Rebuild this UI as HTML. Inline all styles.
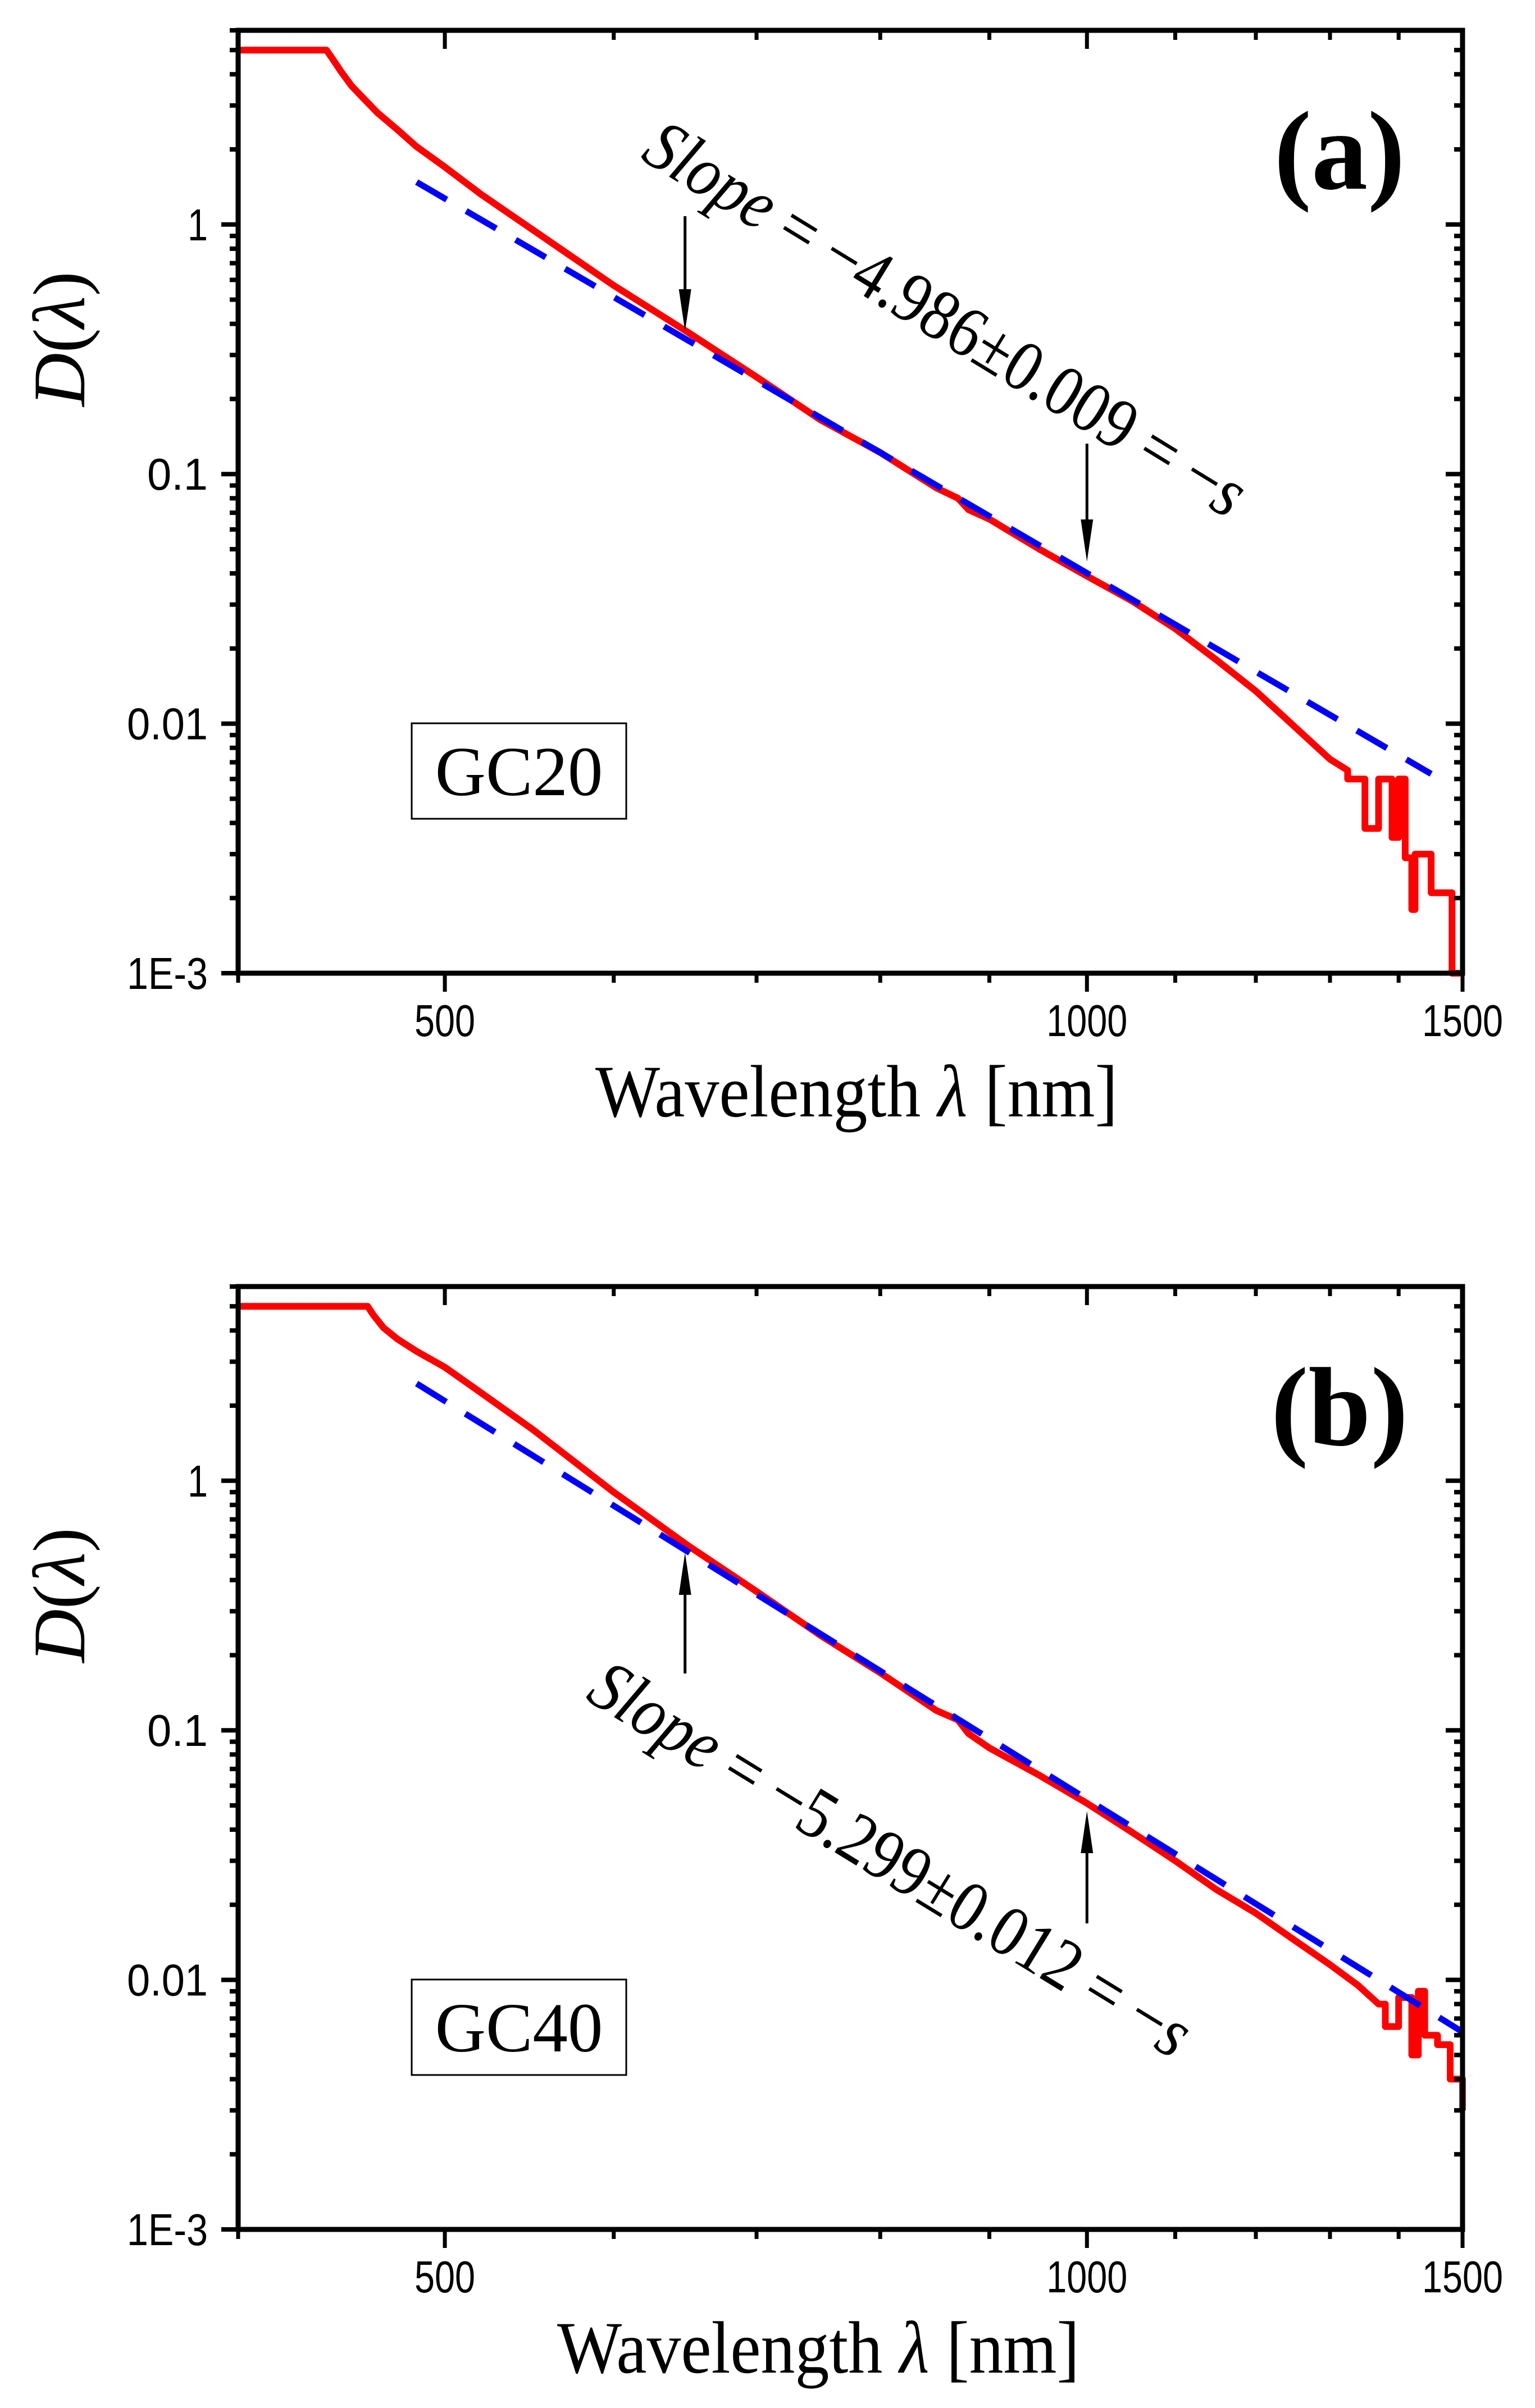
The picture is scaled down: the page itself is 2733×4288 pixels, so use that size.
<!DOCTYPE html>
<html><head><meta charset="utf-8"><style>
html,body{margin:0;padding:0;background:#fff;}
svg{display:block;}
</style></head><body>
<svg id="fig" xmlns="http://www.w3.org/2000/svg" width="2733" height="4288" viewBox="0 0 2733 4288"></svg>
<script>
// ---- data ----
const xTickValues = [500, 1000, 1500];
const xTickLabels = ["500", "1000", "1500"];
const xMinorTicks = [400, 600, 700, 800, 900, 1100, 1200, 1300, 1400];
const yTickValues = [1, 0.1, 0.01, 0.001];
const yTickLabels = ["1", "0.1", "0.01", "1E-3"];

const redA_lambda = [400,440,443,447,452,458,465,475,485,500,520,550,600,650,700,750,800,850,870,880,900,950,1000,1050,1100,1150,1200,1250,1300,1325,1325,1350,1350,1370,1370,1390,1390,1400,1400,1410,1410,1420,1420,1425,1425,1450,1450,1483,1483,1500];
const redA_value  = [5,5,4.6,4.1,3.6,3.2,2.8,2.4,2.05,1.7,1.32,0.95,0.57,0.37,0.245,0.165,0.122,0.088,0.08,0.072,0.066,0.05,0.039,0.031,0.024,0.018,0.0135,0.0098,0.0072,0.0065,0.006,0.006,0.0038,0.0038,0.006,0.006,0.0035,0.0035,0.006,0.006,0.0029,0.0029,0.0018,0.0018,0.003,0.003,0.0021,0.0021,0.001,0.001];
const blueA_range = [485, 1450];
const blueA_slope = -4.986;
const blueA_at1000 = 0.0401;

const redB_lambda = [400,460,463,468,475,485,500,520,550,600,650,700,750,800,850,870,880,900,950,1000,1050,1100,1150,1200,1250,1300,1340,1370,1380,1380,1400,1400,1420,1420,1430,1430,1440,1440,1460,1460,1480,1480,1500,1500];
const redB_value  = [5,5,4.6,4.1,3.7,3.3,2.85,2.25,1.6,0.9,0.55,0.36,0.24,0.17,0.12,0.11,0.097,0.085,0.066,0.051,0.039,0.03,0.023,0.0185,0.0145,0.0115,0.0095,0.008,0.008,0.0065,0.0065,0.0085,0.0085,0.005,0.005,0.009,0.009,0.006,0.006,0.0055,0.0055,0.004,0.004,0.003];
const blueB_range = [485, 1500];
const blueB_slope = -5.299;
const blueB_at1000 = 0.053;

// ---- layout ----
const NS = "http://www.w3.org/2000/svg";
const svg = document.getElementById("fig");
const X0 = 424, X1 = 2604;
const LMIN = 400, LMAX = 1500;
function mk(tag, attrs, parent) {
  const e = document.createElementNS(NS, tag);
  for (const k in attrs) e.setAttribute(k, attrs[k]);
  (parent || svg).appendChild(e);
  return e;
}
function xs(l) { return X0 + (Math.log10(l) - Math.log10(LMIN)) / (Math.log10(LMAX) - Math.log10(LMIN)) * (X1 - X0); }

function panel(top, bottom, redL, redV, bRange, bSlope, bAt, cfg) {
  const g = mk("g", {});
  
  
  const decade = (bottom - top) / (3 + Math.log10(6.0));
  function ys(v) { return bottom - (Math.log10(v) + 3) * decade; }

  const rp = redL.map((l, i) => xs(l).toFixed(1) + "," + ys(redV[i]).toFixed(1)).join(" ");
  const red = mk("polyline", {points: rp, fill: "none", stroke: "#ff0000", "stroke-width": 12, "stroke-linejoin": "round"}, g);
  
  

  const l0 = bRange[0], l1 = bRange[1];
  const v0 = bAt * Math.pow(l0 / 1000, bSlope), v1 = bAt * Math.pow(l1 / 1000, bSlope);
  const blue = mk("line", {x1: xs(l0), y1: ys(v0), x2: xs(l1), y2: ys(v1), stroke: "#0000ff", "stroke-width": 11, "stroke-dasharray": "62 40"}, g);
  
  

  const frame = mk("rect", {x: X0, y: top, width: X1 - X0, height: bottom - top, fill: "none", stroke: "#000", "stroke-width": 9}, g);
  
  

  xTickValues.forEach((v, i) => {
    const x = xs(v);
    mk("line", {x1: x, y1: bottom, x2: x, y2: bottom + 33, stroke: "#000", "stroke-width": 7}, g);
    mk("line", {x1: x, y1: top, x2: x, y2: top + 33, stroke: "#000", "stroke-width": 7}, g);
    const t = mk("text", {x: x, y: bottom + 112, "text-anchor": "middle", "font-family": "Liberation Sans Narrow, Liberation Sans, sans-serif", "font-size": 80, textLength: xTickLabels[i].length * 36, lengthAdjust: "spacingAndGlyphs"}, g);
    t.textContent = xTickLabels[i];
    
    
  });
  xMinorTicks.forEach(v => {
    const x = xs(v);
    mk("line", {x1: x, y1: bottom, x2: x, y2: bottom + 17, stroke: "#000", "stroke-width": 7}, g);
    mk("line", {x1: x, y1: top, x2: x, y2: top + 17, stroke: "#000", "stroke-width": 7}, g);
  });
  yTickValues.forEach((v, i) => {
    const y = ys(v);
    mk("line", {x1: X0 - 30, y1: y, x2: X0, y2: y, stroke: "#000", "stroke-width": 8}, g);
    mk("line", {x1: X1 - 30, y1: y, x2: X1, y2: y, stroke: "#000", "stroke-width": 8}, g);
    const t = mk("text", {x: 370, y: y + 28, "text-anchor": "end", "font-family": "Liberation Sans Narrow, Liberation Sans, sans-serif", "font-size": 80, textLength: yTickLabels[i].length * 36, lengthAdjust: "spacingAndGlyphs"}, g);
    t.textContent = yTickLabels[i];
    
    
  });
  for (let d = -3; d <= 0; d++) {
    for (let m = 2; m <= 9; m++) {
      const v = m * Math.pow(10, d);
      if (v > 6) continue;
      const y = ys(v);
      mk("line", {x1: X0 - 15, y1: y, x2: X0, y2: y, stroke: "#000", "stroke-width": 8}, g);
      mk("line", {x1: X1 - 15, y1: y, x2: X1, y2: y, stroke: "#000", "stroke-width": 8}, g);
    }
  }
  const xt = mk("text", {x: cfg.xtc, y: bottom + 255, "text-anchor": "middle", "font-family": "Liberation Serif, serif", "font-size": 132, textLength: 930, lengthAdjust: "spacingAndGlyphs"}, g);
  xt.innerHTML = 'Wavelength <tspan font-style="italic">λ</tspan> [nm]';
  
  
  const yc = (top + bottom) / 2 - 290;
  const yt = mk("text", {x: 0, y: 0, transform: `translate(150 ${yc}) rotate(-90)`, "text-anchor": "middle", "font-family": "Liberation Serif, serif", "font-size": 132}, g);
  yt.innerHTML = '<tspan font-style="italic">D</tspan>(<tspan font-style="italic">λ</tspan>)';
  
  

  const pl = mk("text", {x: 2385, y: top + 282, "text-anchor": "middle", "font-family": "Liberation Serif, serif", "font-size": 200, "font-weight": "bold"}, g);
  pl.textContent = cfg.label;
  
  

  const bx = mk("rect", {x: 733, y: top + 1234, width: 382, height: 170, fill: "#fff", stroke: "#000", "stroke-width": 3}, g);
  
  
  const st = mk("text", {x: 924, y: top + 1362, "text-anchor": "middle", "font-family": "Liberation Serif, serif", "font-size": 125}, g);
  st.textContent = cfg.sample;
  
  

  const sl = mk("text", {x: 0, y: 0, transform: `translate(${cfg.sx} ${cfg.sy}) rotate(31.5)`, "font-family": "Liberation Serif, serif", "font-size": 128, textLength: 1230, lengthAdjust: "spacingAndGlyphs"}, g);
  sl.innerHTML = `<tspan font-style="italic">Slope</tspan> = −${cfg.slopeText} = −<tspan font-style="italic">s</tspan>`;
  
  

  cfg.arrows.forEach(a => {
    const ag = mk("g", {}, g);
    
    
    const x = xs(a[0]);
    const y1 = a[1], y2 = a[2];
    const dir = y2 > y1 ? 1 : -1;
    mk("line", {x1: x, y1: y1, x2: x, y2: y2 - dir * 40, stroke: "#000", "stroke-width": 5}, ag);
    mk("polygon", {points: `${x - 11},${y2 - dir * 75} ${x + 11},${y2 - dir * 75} ${x},${y2}`, fill: "#000"}, ag);
  });
}

panel(54, 1733, redA_lambda, redA_value, blueA_range, blueA_slope, blueA_at1000,
  {name: "panel-a", label: "(a)", sample: "GC20", slopeText: "4.986±0.009", sx: 1138, sy: 282, xtc: 1525,
   arrows: [[648, 385, 590], [1000, 790, 1000]]});
panel(2291, 3970, redB_lambda, redB_value, blueB_range, blueB_slope, blueB_at1000,
  {name: "panel-b", label: "(b)", sample: "GC40", slopeText: "5.299±0.012", sx: 1040, sy: 3025, xtc: 1457,
   arrows: [[648, 2980, 2765], [1000, 3425, 3225]]});
</script>
</body></html>
